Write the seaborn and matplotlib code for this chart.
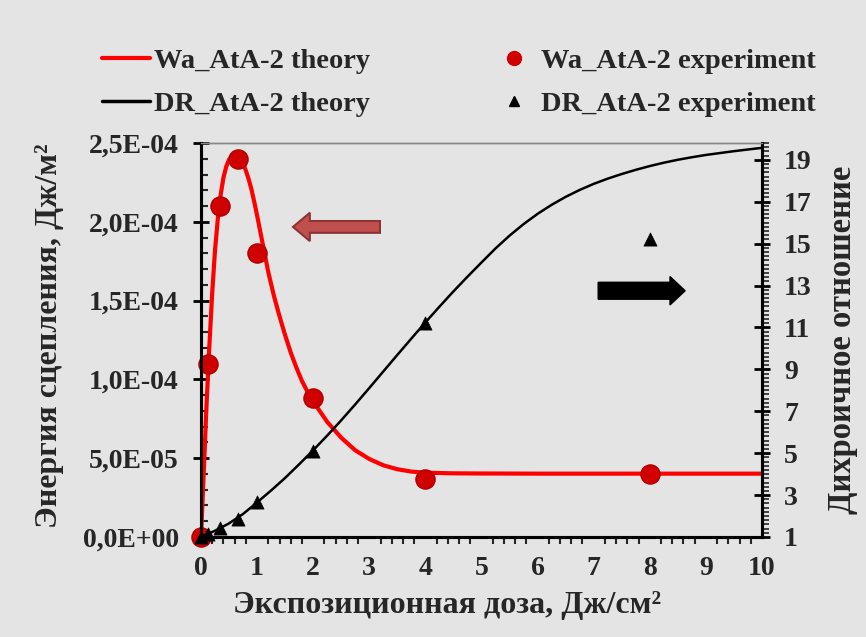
import matplotlib
matplotlib.use("Agg")
import matplotlib.pyplot as plt
import seaborn as sns
from matplotlib.lines import Line2D
from matplotlib.patches import FancyArrow
from matplotlib.ticker import MultipleLocator, FuncFormatter, FixedLocator

# ---------------- data ----------------
dose_wa_theory = [0, 0.05, 0.1, 0.15, 0.2, 0.25, 0.3, 0.35, 0.4, 0.45, 0.5, 0.55,
                  0.6, 0.65, 0.7, 0.75, 0.8, 0.85, 0.9, 0.95, 1.0, 1.1, 1.2, 1.3,
                  1.4, 1.5, 1.6, 1.7, 1.8, 1.9, 2.0, 2.25, 2.5, 2.75, 3.0, 3.25,
                  3.5, 3.75, 4.0, 4.5, 5, 6, 7, 8, 9, 10]
wa_theory_e6 = [0, 42, 85, 122, 155, 182, 202, 217, 228, 235, 239.5, 241.5,
                242, 241.5, 240, 237, 232.5, 227, 220.5, 212.5, 204, 186, 168, 153,
                140, 128, 117, 107.5, 99, 92, 86, 73, 63, 55, 49.5, 45.5,
                43, 41.5, 40.8, 40.4, 40.3, 40.2, 40.2, 40.2, 40.2, 40.2]

dose_dr_theory = [0, 0.25, 0.5, 0.75, 1.0, 1.25, 1.5, 1.75, 2.0, 2.25, 2.5, 2.75,
                  3.0, 3.25, 3.5, 3.75, 4.0, 4.25, 4.5, 4.75, 5.0, 5.25, 5.5, 5.75,
                  6.0, 6.25, 6.5, 6.75, 7.0, 7.25, 7.5, 7.75, 8.0, 8.25, 8.5, 8.75,
                  9.0, 9.25, 9.5, 9.75, 10]
dr_theory = [1.0, 1.3, 1.65, 2.1, 2.65, 3.22, 3.82, 4.47, 5.14, 5.84, 6.57, 7.33,
             8.11, 8.9, 9.69, 10.47, 11.24, 11.99, 12.72, 13.42, 14.1, 14.77, 15.38, 15.93,
             16.42, 16.85, 17.23, 17.56, 17.85, 18.1, 18.32, 18.52, 18.7, 18.86, 19.0, 19.12,
             19.23, 19.32, 19.41, 19.49, 19.57]

dose_exp = [0, 0.13, 0.33, 0.66, 1.0, 2.0, 4.0, 8.0]
wa_exp_e6 = [0, 110, 210, 240, 180, 88, 37, 40]
dr_exp = [1.0, 1.15, 1.45, 1.85, 2.65, 5.1, 11.2, 15.2]

x_ticks = list(range(0, 11))
left_ticks = [0, 5e-5, 1e-4, 1.5e-4, 2e-4, 2.5e-4]
right_ticks = [1, 3, 5, 7, 9, 11, 13, 15, 17, 19]

labels = ["Wa_AtA-2 theory", "DR_AtA-2 theory", "Wa_AtA-2 experiment", "DR_AtA-2 experiment"]
xlabel = "Экспозиционная доза, Дж/см²"
ylabel_left = "Энергия сцепления, Дж/м²"
ylabel_right = "Дихроичное отношение"

wa_theory = [v * 1e-6 for v in wa_theory_e6]
wa_exp = [v * 1e-6 for v in wa_exp_e6]

# ---------------- style ----------------
BG = "#e4e4e4"
sns.set_theme(style="white")
plt.rcParams["font.family"] = ["Liberation Serif", "DejaVu Serif"]
plt.rcParams["font.weight"] = "bold"
plt.rcParams["axes.labelweight"] = "bold"

fig = plt.figure(figsize=(8.66, 6.37), dpi=100, facecolor=BG)
ax = fig.add_axes([201 / 866, 1 - 537 / 637, 561 / 866, 394 / 637])
ax.set_facecolor(BG)
ax2 = ax.twinx()

# lines
sns.lineplot(x=dose_wa_theory, y=wa_theory, ax=ax, color="#ff0000", lw=3.0,
             estimator=None, sort=False, zorder=3)
sns.lineplot(x=dose_dr_theory, y=dr_theory, ax=ax2, color="black", lw=1.8,
             estimator=None, sort=False, zorder=3)
# points
sns.scatterplot(x=dose_exp, y=wa_exp, ax=ax, marker="o", s=190, color="#d00000",
                edgecolor="#b00000", linewidth=1, zorder=4, clip_on=False)
sns.scatterplot(x=dose_exp, y=dr_exp, ax=ax2, marker="^", s=90, color="black",
                edgecolor="black", linewidth=0.5, zorder=4, clip_on=False)

ax.set_xlim(0, 10)
ax.set_ylim(0, 2.5e-4)
ax2.set_ylim(1, 19.8)

ax.xaxis.set_major_locator(FixedLocator(x_ticks))
ax.xaxis.set_minor_locator(MultipleLocator(0.2))
ax.yaxis.set_major_locator(FixedLocator(left_ticks))
ax.yaxis.set_minor_locator(MultipleLocator(1e-5))
ax.yaxis.set_major_formatter(FuncFormatter(lambda v, p: f"{v:.1E}".replace(".", ",")))
ax2.yaxis.set_major_locator(FixedLocator(right_ticks))
ax2.yaxis.set_minor_locator(MultipleLocator(0.2))

tick_fs = 20
ax.tick_params(axis="x", which="major", direction="inout", length=12, width=2,
               labelsize=tick_fs, color="black", pad=8)
ax.tick_params(axis="y", which="major", direction="inout", length=12, width=2,
               labelsize=tick_fs, color="black", pad=10)
ax.tick_params(axis="y", which="minor", direction="in", length=5, width=1.5, left=True)
ax.tick_params(axis="x", which="minor", direction="out", length=5, width=1.5, bottom=True)
ax2.tick_params(axis="y", which="major", direction="inout", length=12, width=2,
                labelsize=tick_fs, color="black", pad=10)
ax2.tick_params(axis="y", which="minor", direction="out", length=5, width=1.2, right=True)
for lab in ax.get_xticklabels() + ax.get_yticklabels() + ax2.get_yticklabels():
    lab.set_fontweight("bold")

for a in (ax, ax2):
    for side in ("left", "right", "bottom"):
        a.spines[side].set_color("black")
        a.spines[side].set_linewidth(2.2)
    a.spines["top"].set_color("#888888")
    a.spines["top"].set_linewidth(1.0)

# axis titles
fig.text(447 / 866, 1 - 605 / 637, xlabel, fontsize=23, fontweight="bold",
         ha="center", va="center")
fig.text(50 / 866, 1 - 336 / 637, ylabel_left, fontsize=23, fontweight="bold",
         ha="center", va="center", rotation=90)
fig.text(843 / 866, 1 - 340 / 637, ylabel_right, fontsize=23.5, fontweight="bold",
         ha="center", va="center", rotation=90)

# direction arrows
ax.add_patch(FancyArrow(0.319, 0.787, -0.125, 0, width=0.030, head_width=0.072,
                        head_length=0.030, length_includes_head=False,
                        transform=ax.transAxes, facecolor="#c0504d",
                        edgecolor="#8c3432", lw=1.5, zorder=5))
ax.add_patch(FancyArrow(0.708, 0.625, 0.128, 0, width=0.043, head_width=0.072,
                        head_length=0.027, length_includes_head=False,
                        transform=ax.transAxes, facecolor="black",
                        edgecolor="black", lw=1.0, zorder=5))

# legend
handles = [
    Line2D([], [], color="#ff0000", lw=3),
    Line2D([], [], color="black", lw=2.5),
    Line2D([], [], color="#d00000", marker="o", ls="none", markersize=10),
    Line2D([], [], color="black", marker="^", ls="none", markersize=7.5),
]
fig.legend(handles, labels, ncol=2, loc="center", bbox_to_anchor=(459 / 866, 1 - 82.5 / 637),
           frameon=False, prop={"family": "Liberation Serif", "weight": "bold", "size": 20.5},
           handlelength=1.7, handletextpad=0.12, columnspacing=4.2, labelspacing=0.62)

fig.savefig("out.png", dpi=100, facecolor=BG)
